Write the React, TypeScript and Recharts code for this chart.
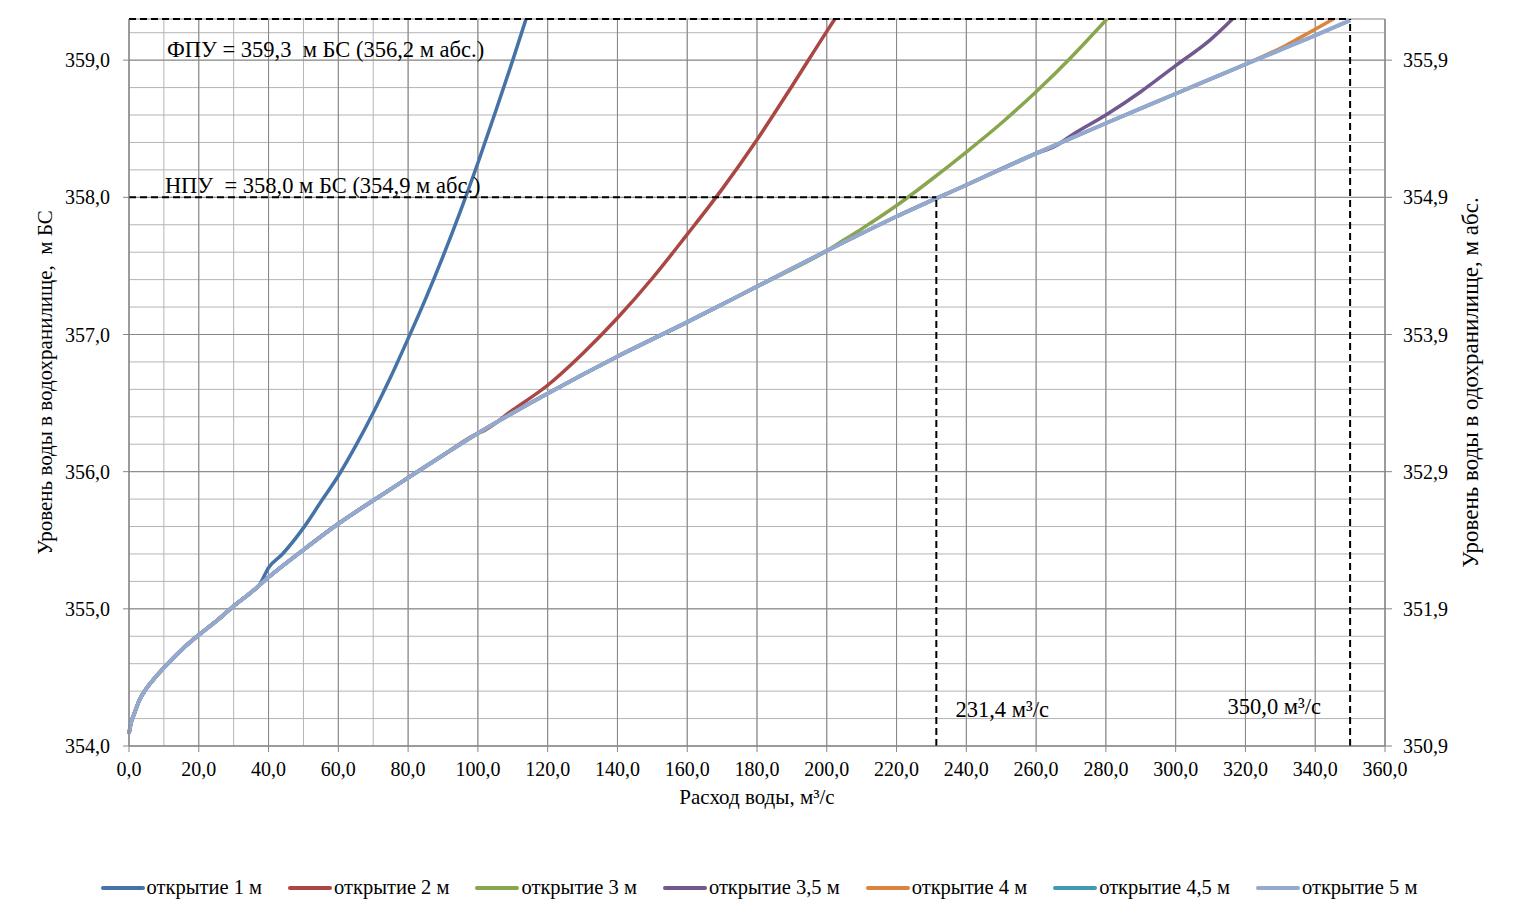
import React from "react";
import {
  CartesianGrid,
  Legend,
  Line,
  LineChart,
  ReferenceDot,
  ReferenceLine,
  XAxis,
  YAxis,
} from "recharts";

// базовая кривая (открытие 5 м), расход м3/с и уровень м БС
const baseQ = [0, 0.5, 1.5, 3, 5, 7.5, 10, 15, 20, 25, 30, 35, 40, 50, 60, 70, 80, 90, 100, 120, 140, 160, 180, 200, 220, 240, 260, 280, 300, 320, 340, 350];
const baseLevel = [354.09, 354.16, 354.235, 354.335, 354.42, 354.5, 354.57, 354.7, 354.81, 354.91, 355.02, 355.12, 355.23, 355.43, 355.62, 355.79, 355.955, 356.12, 356.28, 356.57, 356.84, 357.09, 357.35, 357.61, 357.86, 358.09, 358.32, 358.54, 358.755, 358.97, 359.18, 359.29];

// ветви при частичном открытии
const q1 = [37.5, 40, 44, 50, 55, 60, 65, 70, 75, 80, 85, 90, 95, 100, 105, 110, 113.8];
const level1 = [355.18, 355.3, 355.4, 355.59, 355.78, 355.97, 356.19, 356.43, 356.69, 356.97, 357.26, 357.57, 357.9, 358.25, 358.62, 359.0, 359.3];
const q2 = [101, 110, 120, 130, 140, 150, 160, 170, 180, 190, 200, 202.3];
const level2 = [356.29, 356.45, 356.63, 356.86, 357.12, 357.41, 357.73, 358.06, 358.42, 358.81, 359.21, 359.3];
const q3 = [205, 210, 220, 230, 240, 250, 260, 270, 280.3];
const level3 = [357.69, 357.77, 357.94, 358.13, 358.33, 358.54, 358.77, 359.02, 359.3];
const q35 = [266, 270, 280, 290, 300, 310, 316.3];
const level35 = [358.38, 358.45, 358.6, 358.77, 358.96, 359.15, 359.3];
const q4 = [331, 335, 340, 345.2];
const level4 = [359.1, 359.155, 359.225, 359.3];

const xTicks = [0, 20, 40, 60, 80, 100, 120, 140, 160, 180, 200, 220, 240, 260, 280, 300, 320, 340, 360];
const xMinorTicks = [0, 10, 20, 30, 40, 50, 60, 70, 80, 90, 100, 110, 120, 130, 140, 150, 160, 170, 180, 190, 200, 210, 220, 230, 240, 250, 260, 270, 280, 290, 300, 310, 320, 330, 340, 350, 360];
const yTicks = [354, 355, 356, 357, 358, 359];
const yMinorTicks = [354, 354.2, 354.4, 354.6, 354.8, 355, 355.2, 355.4, 355.6, 355.8, 356, 356.2, 356.4, 356.6, 356.8, 357, 357.2, 357.4, 357.6, 357.8, 358, 358.2, 358.4, 358.6, 358.8, 359, 359.2];
const yRightTicks = [350.9, 351.9, 352.9, 353.9, 354.9, 355.9];

const fpu = 359.3;
const npu = 358.0;
const qNpu = 231.4;
const qMax = 350.0;

const FONT = '"Liberation Serif", "Times New Roman", serif';

const toPts = (q: number[], level: number[]) => q.map((x, i) => ({ q: x, level: level[i] }));
const basePts = toPts(baseQ, baseLevel);
const build = (q: number[], level: number[]) =>
  basePts.filter((p) => p.q < q[0]).concat(toPts(q, level));

const series = [
  { name: "открытие 1 м", color: "#4572A7", data: build(q1, level1) },
  { name: "открытие 2 м", color: "#AA4643", data: build(q2, level2) },
  { name: "открытие 3 м", color: "#89A54E", data: build(q3, level3) },
  { name: "открытие 3,5 м", color: "#71588F", data: build(q35, level35) },
  { name: "открытие 4 м", color: "#DB843D", data: build(q4, level4) },
  { name: "открытие 4,5 м", color: "#4198AF", data: basePts },
  { name: "открытие 5 м", color: "#93A9CF", data: basePts },
];

const fmt = (v: number) => v.toFixed(1).replace(".", ",");
const tick = { fill: "#000", fontSize: 20, fontFamily: FONT };
const axisStroke = "#868686";
const dash = { stroke: "#000", strokeWidth: 2, strokeDasharray: "7 4" };
const titleStyle = { fill: "#000", fontSize: 21, fontFamily: FONT };
const noteLabel = (value: string) => ({
  value,
  position: "right" as const,
  offset: 0,
  fill: "#000",
  fontSize: 22.5,
  fontFamily: FONT,
});

export default function App() {
  return (
    <div style={{ fontFamily: FONT }}>
      <LineChart
        width={1502}
        height={900}
        margin={{ top: 11, right: 20, left: 20, bottom: 2 }}
        style={{ fontFamily: FONT }}
      >
        {/* мелкая сетка */}
        <CartesianGrid
          yAxisId="left"
          horizontalValues={yMinorTicks}
          verticalValues={xMinorTicks}
          stroke="#b4b4b4"
          strokeWidth={1}
        />
        {/* основная сетка */}
        <CartesianGrid yAxisId="left" stroke="#878787" strokeWidth={1} />

        <XAxis
          type="number"
          dataKey="q"
          domain={[0, 360]}
          ticks={xTicks}
          tickFormatter={fmt}
          tick={tick}
          stroke={axisStroke}
          tickSize={6}
          tickMargin={10}
          height={130}
          label={{ value: "Расход воды, м³/с", position: "insideTop", offset: 43, ...titleStyle }}
        />
        <YAxis
          yAxisId="left"
          type="number"
          domain={[354, fpu]}
          ticks={yTicks}
          tickFormatter={fmt}
          tick={tick}
          stroke={axisStroke}
          tickSize={6}
          tickMargin={13}
          width={101}
          allowDataOverflow
          label={{ value: "Уровень воды в водохранилище, \u00A0м БС", angle: -90, position: "insideLeft", offset: 17, style: { textAnchor: "middle" }, ...titleStyle }}
        />
        <YAxis
          yAxisId="right"
          orientation="right"
          type="number"
          domain={[350.9, 356.2]}
          ticks={yRightTicks}
          tickFormatter={fmt}
          tick={tick}
          stroke={axisStroke}
          tickSize={7}
          tickMargin={11}
          width={105}
          allowDataOverflow
          label={{ value: "Уровень воды в одохранилище, м абс.", angle: -90, position: "insideRight", offset: 20, style: { textAnchor: "middle" }, ...titleStyle, fontSize: 23 }}
        />

        {series.map((s) => (
          <Line
            key={s.name}
            yAxisId="left"
            data={s.data}
            dataKey="level"
            name={s.name}
            type="monotone"
            stroke={s.color}
            strokeWidth={s.name === "открытие 5 м" ? 4 : 3.5}
            dot={false}
            activeDot={false}
            isAnimationActive={false}
          />
        ))}

        <ReferenceLine yAxisId="left" segment={[{ x: 0, y: fpu }, { x: qMax, y: fpu }]} {...dash} />
        <ReferenceLine yAxisId="left" segment={[{ x: qMax, y: 354 }, { x: qMax, y: fpu }]} {...dash} />
        <ReferenceLine yAxisId="left" segment={[{ x: 0, y: npu }, { x: qNpu, y: npu }]} {...dash} />
        <ReferenceLine yAxisId="left" segment={[{ x: qNpu, y: 354 }, { x: qNpu, y: npu }]} {...dash} />

        <ReferenceDot yAxisId="left" x={10.6} y={359.08} r={1} fill="none" stroke="none" label={noteLabel("ФПУ = 359,3 \u00A0м БС (356,2 м абс.)")} />
        <ReferenceDot yAxisId="left" x={10.0} y={358.09} r={1} fill="none" stroke="none" label={noteLabel("НПУ \u00A0= 358,0 м БС (354,9 м абс.)")} />
        <ReferenceDot yAxisId="left" x={236.6} y={354.27} r={1} fill="none" stroke="none" label={noteLabel("231,4 м³/с")} />
        <ReferenceDot yAxisId="left" x={314.6} y={354.29} r={1} fill="none" stroke="none" label={noteLabel("350,0 м³/с")} />

        <Legend
          verticalAlign="bottom"
          height={30}
          content={() => (
            <div style={{ display: "flex", justifyContent: "center", gap: 26, fontSize: 20.5, fontFamily: FONT, color: "#000" }}>
              {series.map((s) => (
                <div key={s.name} style={{ display: "flex", alignItems: "center" }}>
                  <span style={{ display: "inline-block", width: 44, height: 4, borderRadius: 2, background: s.color, marginRight: 2 }} />
                  {s.name}
                </div>
              ))}
            </div>
          )}
        />
      </LineChart>
    </div>
  );
}
